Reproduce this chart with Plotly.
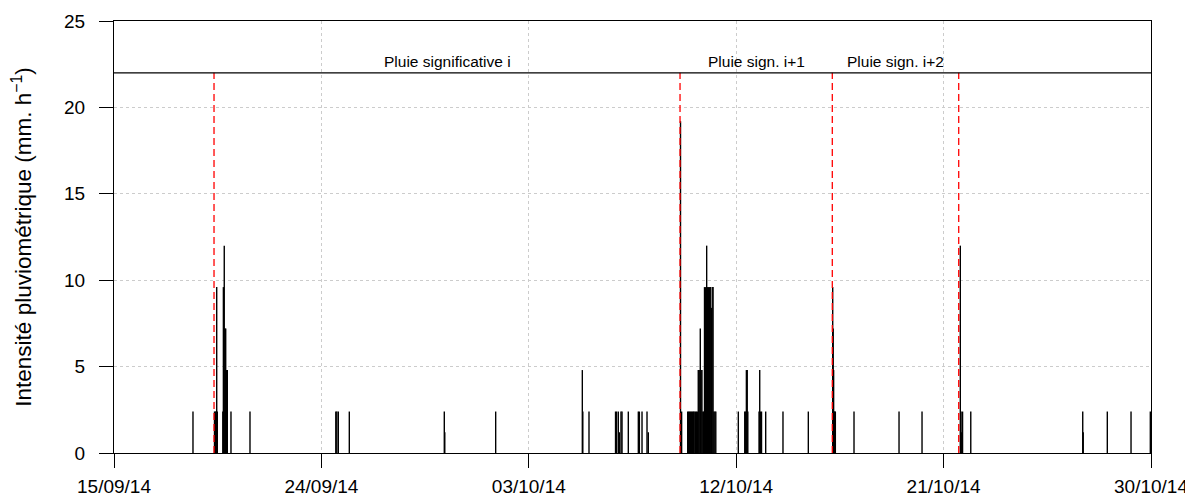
"""
Intensité pluviométrique (pluviographe) du 15/09/14 au 30/10/14,
avec le découpage en pluies significatives.
"""
import pandas as pd
import plotly.graph_objects as go

# --- données -----------------------------------------------------------------
heures = [
    "2014-09-18 10:15",
    "2014-09-19 08:40", "2014-09-19 09:30", "2014-09-19 10:15", "2014-09-19 10:58",
    "2014-09-19 11:35", "2014-09-19 17:20", "2014-09-19 17:55", "2014-09-19 18:50",
    "2014-09-19 19:36", "2014-09-19 20:20", "2014-09-19 21:10", "2014-09-19 22:00",
    "2014-09-20 01:50", "2014-09-20 21:38",
    "2014-09-24 15:00", "2014-09-24 16:03", "2014-09-24 17:36", "2014-09-25 05:04",
    "2014-09-29 08:00", "2014-09-29 08:30", "2014-10-01 13:30",
    "2014-10-05 07:45", "2014-10-05 08:15", "2014-10-05 14:42",
    "2014-10-06 18:20", "2014-10-06 19:22", "2014-10-06 21:13", "2014-10-06 22:16",
    "2014-10-07 00:00", "2014-10-07 01:05", "2014-10-07 07:38", "2014-10-07 18:04",
    "2014-10-07 19:08", "2014-10-07 21:55", "2014-10-08 03:07", "2014-10-08 04:28",
    "2014-10-09 14:00", "2014-10-09 15:10",
    "2014-10-09 21:30", "2014-10-09 22:30", "2014-10-09 23:30", "2014-10-10 00:30",
    "2014-10-10 01:30", "2014-10-10 02:30", "2014-10-10 03:30", "2014-10-10 04:15",
    "2014-10-10 05:30", "2014-10-10 06:30", "2014-10-10 07:30", "2014-10-10 08:30",
    "2014-10-10 09:30", "2014-10-10 10:36", "2014-10-10 11:30", "2014-10-10 12:20",
    "2014-10-10 13:15", "2014-10-10 14:10", "2014-10-10 15:00", "2014-10-10 16:00",
    "2014-10-10 17:15", "2014-10-10 18:00", "2014-10-10 19:00", "2014-10-10 20:00",
    "2014-10-10 21:00", "2014-10-10 22:05", "2014-10-10 23:00", "2014-10-10 23:55",
    "2014-10-11 00:45", "2014-10-11 01:45", "2014-10-11 02:45",
    "2014-10-12 02:12", "2014-10-12 08:54", "2014-10-12 09:42", "2014-10-12 10:36",
    "2014-10-12 11:30", "2014-10-12 12:06", "2014-10-12 23:48", "2014-10-13 00:30",
    "2014-10-13 01:20", "2014-10-13 02:22", "2014-10-13 06:43", "2014-10-14 00:43",
    "2014-10-15 03:07",
    "2014-10-16 04:30", "2014-10-16 05:00", "2014-10-16 05:28", "2014-10-16 06:06",
    "2014-10-16 06:45", "2014-10-16 07:15", "2014-10-17 02:42", "2014-10-19 01:35",
    "2014-10-20 01:32",
    "2014-10-21 17:24", "2014-10-21 18:10", "2014-10-21 18:55", "2014-10-21 19:45",
    "2014-10-22 04:18", "2014-10-27 00:54", "2014-10-27 01:25", "2014-10-28 02:30",
    "2014-10-29 03:12", "2014-10-29 23:18", "2014-10-29 23:48",
]
intensites = [
    2.4,
    2.4, 2.4, 2.4, 9.6,
    2.4, 2.4, 9.6, 12.0,
    7.2, 7.2, 4.8, 4.8,
    2.4, 2.4,
    2.4, 2.4, 2.4, 2.4,
    2.4, 1.2, 2.4,
    4.8, 2.4, 2.4,
    2.4, 2.4, 2.4, 1.2,
    2.4, 2.4, 2.4, 2.4,
    2.4, 2.4, 2.4, 1.2,
    19.2, 2.4,
    2.4, 2.4, 2.4, 2.4,
    2.4, 2.4, 2.4, 2.4,
    2.4, 2.4, 2.4, 4.8,
    4.8, 7.2, 4.8, 4.8,
    2.4, 2.4, 9.6, 9.6,
    12.0, 9.6, 9.6, 9.6,
    9.6, 8.4, 9.6, 9.6,
    2.4, 2.4, 2.4,
    2.4, 2.4, 2.4, 4.8,
    4.8, 2.4, 2.4, 4.8,
    2.4, 2.4, 2.4, 2.4,
    2.4,
    9.6, 7.2, 4.8, 2.4,
    2.4, 2.4, 2.4, 2.4,
    2.4,
    12.0, 2.4, 1.2, 2.4,
    2.4, 2.4, 1.2, 2.4,
    2.4, 2.4, 1.2,
]

# début des pluies significatives (le dernier ferme la pluie i+2)
bornes_pluies = ["2014-09-19 08:10", "2014-10-09 13:30", "2014-10-16 04:05", "2014-10-21 15:45"]
libelles_pluies = ["Pluie significative i", "Pluie sign. i+1", "Pluie sign. i+2"]
niveau_bandeau = 22

dates_ticks = ["2014-09-15", "2014-09-24", "2014-10-03", "2014-10-12", "2014-10-21", "2014-10-30"]
libelles_ticks = ["15/09/14", "24/09/14", "03/10/14", "12/10/14", "21/10/14", "30/10/14"]

# --- figure ------------------------------------------------------------------
xs, ys = [], []
for t, v in zip(heures, intensites):
    xs += [t, t, None]
    ys += [0, v, None]

fig = go.Figure()
fig.add_trace(go.Scatter(
    x=xs, y=ys, mode="lines",
    line=dict(color="black", width=1.4),
    hoverinfo="skip", showlegend=False,
))

xr, yr = [], []
for b in bornes_pluies:
    xr += [b, b, None]
    yr += [0, niveau_bandeau, None]
fig.add_trace(go.Scatter(
    x=xr, y=yr, mode="lines",
    line=dict(color="red", width=1.3, dash="7px,4px"),
    hoverinfo="skip", showlegend=False,
))

fig.add_shape(type="line", xref="paper", x0=0, x1=1, yref="y",
              y0=niveau_bandeau, y1=niveau_bandeau,
              line=dict(color="black", width=1.3))

bornes = pd.to_datetime(bornes_pluies)
for debut, fin, texte in zip(bornes[:-1], bornes[1:], libelles_pluies):
    milieu = debut + (fin - debut) / 2
    fig.add_annotation(x=milieu, y=niveau_bandeau + 0.65, text=texte, showarrow=False,
                       font=dict(size=15.5, color="black"), yanchor="middle")

axe = dict(
    showline=True, mirror=True, linecolor="black", linewidth=1,
    ticks="outside", ticklen=14, tickcolor="black", tickwidth=1,
    showgrid=True, gridcolor="#cccccc", griddash="dot", gridwidth=1,
    zeroline=False, tickfont=dict(size=19, color="black"), automargin=False,
)
fig.update_xaxes(
    type="date", range=["2014-09-15", "2014-10-30"],
    tickvals=dates_ticks, ticktext=libelles_ticks, ticklabelstandoff=2, **axe,
)
fig.update_yaxes(
    range=[0, 25], tickvals=[0, 5, 10, 15, 20, 25], ticklabelstandoff=10,
    title=dict(text="Intensité pluviométrique (mm. h<sup>−1</sup>)",
               font=dict(size=22.5, color="black"), standoff=26),
    **axe,
)
# la page ajoute 8 px de marge autour du graphique
fig.update_layout(
    width=1185, height=491,
    margin=dict(l=106, r=42, t=13, b=46),
    plot_bgcolor="white", paper_bgcolor="white",
    font=dict(family="Liberation Sans, Arial, sans-serif", color="black"),
    showlegend=False,
)

fig.write_html("out.html")
